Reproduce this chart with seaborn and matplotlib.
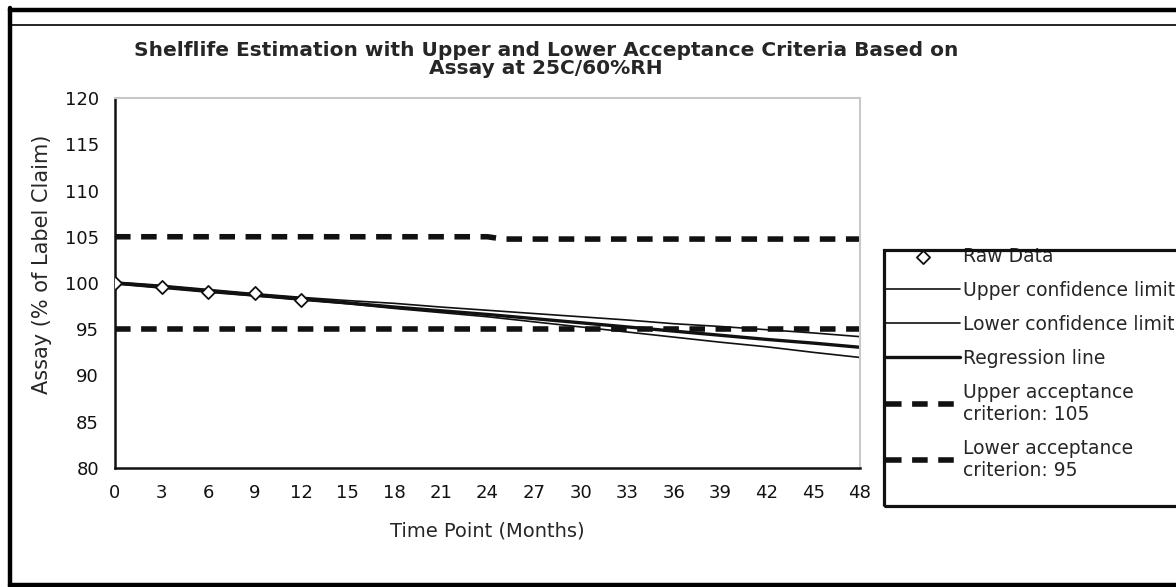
import numpy as np
import pandas as pd
import matplotlib as mpl
import matplotlib.pyplot as plt
from matplotlib.lines import Line2D
from matplotlib.patches import Rectangle
import seaborn as sns

sns.set_style('white')
plt.rcParams['font.family'] = ['DejaVu Sans']

# Data
raw_months = [0, 3, 6, 9, 12]
raw_assay = [100.0, 99.6, 99.0, 98.9, 98.2]

fit_months = [0, 3, 6, 9, 12, 15, 18, 21, 24, 27, 30, 33, 36, 39, 42, 45, 48]
upper_cl = [100.1, 99.75, 99.3, 98.85, 98.45, 98.1, 97.8, 97.4, 97.05,
            96.7, 96.35, 96.0, 95.6, 95.3, 94.95, 94.6, 94.2]
lower_cl = [99.9, 99.45, 99.0, 98.6, 98.15, 97.75, 97.25, 96.8, 96.35,
            95.8, 95.25, 94.7, 94.15, 93.6, 93.1, 92.5, 91.95]
regression = [100.0, 99.6, 99.15, 98.7, 98.3, 97.85, 97.4, 97.0, 96.6,
              96.15, 95.7, 95.25, 94.8, 94.35, 93.9, 93.5, 93.05]

upper_acc_months = [0, 24, 25, 48]
upper_acc = [105, 105, 104.75, 104.75]
lower_acc_months = [0, 48]
lower_acc = [95, 95]

labels = ['Raw Data', 'Upper confidence limit', 'Lower confidence limit',
          'Regression line', 'Upper acceptance\ncriterion: 105',
          'Lower acceptance\ncriterion: 95']

W, H = 1176, 587
fig = plt.figure(figsize=(W / 100, H / 100), dpi=100)
ax = fig.add_axes([115 / W, 1 - 468 / H, (860 - 115) / W, (468 - 98) / H])

dash = (0, (2.8, 1.9))
sns.lineplot(x=upper_acc_months, y=upper_acc, ax=ax, color='#111111',
             lw=4, linestyle=dash, label=labels[4])
sns.lineplot(x=lower_acc_months, y=lower_acc, ax=ax, color='#111111',
             lw=4, linestyle=dash, label=labels[5])
sns.lineplot(x=fit_months, y=upper_cl, ax=ax, color='#111111', lw=1.2,
             label=labels[1])
sns.lineplot(x=fit_months, y=lower_cl, ax=ax, color='#111111', lw=1.2,
             label=labels[2])
sns.lineplot(x=fit_months, y=regression, ax=ax, color='#111111', lw=2.4,
             label=labels[3])
sns.scatterplot(x=raw_months, y=raw_assay, ax=ax, marker='D', s=45,
                facecolor='white', edgecolor='#111111', linewidth=1.3,
                zorder=5, label=labels[0])

ax.set_xlim(0, 48)
ax.set_ylim(80, 120)
ax.set_xticks(np.arange(0, 49, 3))
ax.set_yticks(np.arange(80, 121, 5))
ax.tick_params(direction='inout', length=9, width=1.5, colors='#111111',
               labelsize=13, pad=7)
for side in ['left', 'bottom']:
    ax.spines[side].set_color('#111111')
    ax.spines[side].set_linewidth(1.8)
for side in ['top', 'right']:
    ax.spines[side].set_color('#c8c8c8')
    ax.spines[side].set_linewidth(1.5)

ax.set_xlabel('Time Point (Months)', fontsize=14, labelpad=14)
ax.set_ylabel('Assay (% of Label Claim)', fontsize=15, labelpad=9, y=0.55)

fig.text(546 / W, 1 - 50 / H,
         'Shelflife Estimation with Upper and Lower Acceptance Criteria Based on',
         ha='center', va='center', fontsize=14.5, fontweight='bold')
fig.text(546 / W, 1 - 69 / H, 'Assay at 25C/60%RH',
         ha='center', va='center', fontsize=14.5, fontweight='bold')

# legend in the reference order, box drawn separately
handles, labs = ax.get_legend_handles_labels()
order = [labs.index(l) for l in labels]
leg = ax.legend([handles[i] for i in order], [labs[i] for i in order],
                loc='upper left', bbox_to_anchor=(886 / W, 1 - 247 / H),
                bbox_transform=fig.transFigure, fontsize=13.5,
                frameon=False, borderpad=0, borderaxespad=0,
                handlelength=3.95, handletextpad=0.15, labelspacing=0.8)
fig.add_artist(Rectangle((884 / W, 1 - 506 / H), (1190 - 884) / W, 256 / H,
                         transform=fig.transFigure, fill=False,
                         ec='#111111', lw=2.3))

# outer frame of the chart area
fig.add_artist(Line2D([10 / W, 1], [1 - 10 / H] * 2, color='black', lw=3.2))
fig.add_artist(Line2D([10 / W, 1], [1 - 25 / H] * 2, color='black', lw=1.2))
fig.add_artist(Line2D([10 / W] * 2, [0, 1 - 8 / H], color='black', lw=3.2))
fig.add_artist(Line2D([10 / W, 1], [2 / H] * 2, color='black', lw=3.2))

fig.savefig('out.png', dpi=100, facecolor='white')
